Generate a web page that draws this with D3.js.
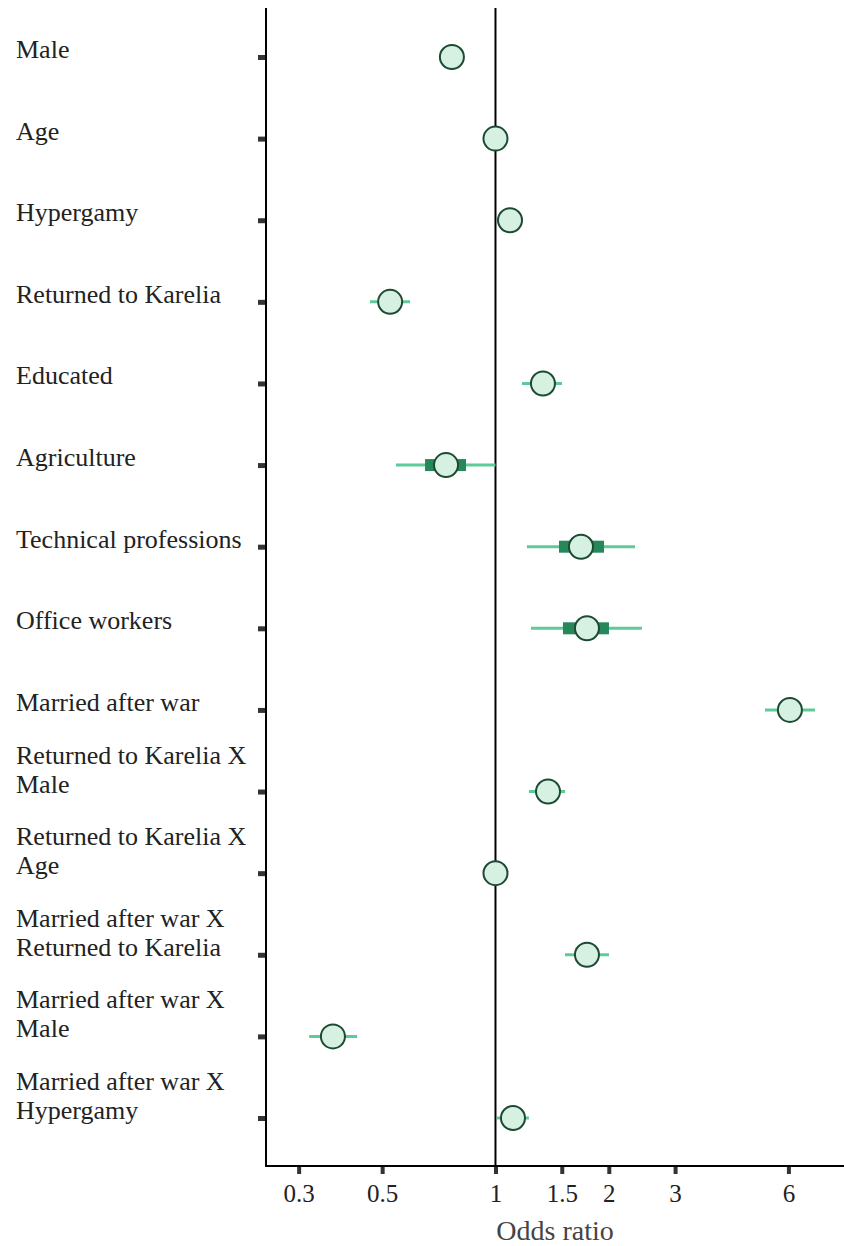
<!DOCTYPE html>
<html>
<head>
<meta charset="utf-8">
<script src="https://cdn.jsdelivr.net/npm/d3@7"></script>
<style>
  body { margin: 0; background: #fff; }
  text { font-family: "Liberation Serif", "Times New Roman", serif; fill: #222; }
</style>
</head>
<body>
<svg id="chart" width="844" height="1246"></svg>
<script>
// Row labels (wrapped as in the figure)
var categories = [
  "Male",
  "Age",
  "Hypergamy",
  "Returned to Karelia",
  "Educated",
  "Agriculture",
  "Technical professions",
  "Office workers",
  "Married after war",
  "Returned to Karelia X\nMale",
  "Returned to Karelia X\nAge",
  "Married after war X\nReturned to Karelia",
  "Married after war X\nMale",
  "Married after war X\nHypergamy"
];

// Odds ratio estimates and intervals
var estimate = [0.766, 1.00, 1.093, 0.525, 1.337, 0.739, 1.687, 1.750, 6.055, 1.379, 1.00, 1.750, 0.370, 1.113];
var lower    = [0.75, 0.98, 1.07, 0.464, 1.176, 0.544, 1.212, 1.243, 5.198, 1.227, 0.99, 1.530, 0.320, 1.009];
var upper    = [0.78, 1.02, 1.11, 0.593, 1.502, 1.000, 2.347, 2.449, 7.058, 1.530, 1.01, 2.002, 0.429, 1.227];
// inner (thick) interval, only shown for some rows
var innerLow  = [null, null, null, null, null, 0.650, 1.475, 1.511, null, null, null, null, null, null];
var innerHigh = [null, null, null, null, null, 0.835, 1.942, 2.002, null, null, null, null, null, null];

var tickValues = [0.3, 0.5, 1, 1.5, 2, 3, 6];

var rows = categories.map(function(c, i) {
  return {label: c, est: estimate[i], lo: lower[i], hi: upper[i], ilo: innerLow[i], ihi: innerHigh[i]};
});

var svg = d3.select("#chart");

var plotLeft = 266, plotRight = 844, plotTop = 8, plotBottom = 1166;

var x = d3.scaleLog()
  .domain([0.2457, 8.43])
  .range([plotLeft, plotRight]);

var y = d3.scalePoint()
  .domain(categories)
  .range([57, 1118]);

// Reference line at OR = 1
svg.append("line")
  .attr("x1", x(1)).attr("x2", x(1))
  .attr("y1", plotTop).attr("y2", plotBottom)
  .style("stroke", "#000")
  .style("stroke-width", 2);

// Axes
var xAxis = d3.axisBottom(x)
  .tickValues(tickValues)
  .tickFormat(d3.format("~g"))
  .tickSize(8)
  .tickPadding(10);

var gx = svg.append("g")
  .attr("transform", "translate(0," + plotBottom + ")")
  .call(xAxis);

gx.select(".domain").remove();
gx.selectAll(".tick line")
  .attr("y1", 1)
  .style("stroke", "#333")
  .style("stroke-width", 4);
gx.selectAll(".tick text")
  .style("font-family", "Liberation Serif, serif")
  .style("font-size", "25px")
  .style("fill", "#222");

var yAxis = d3.axisLeft(y)
  .tickSize(8)
  .tickFormat("");

var gy = svg.append("g")
  .attr("transform", "translate(" + plotLeft + ",0)")
  .call(yAxis);

gy.select(".domain").remove();
gy.selectAll(".tick line")
  .style("stroke", "#333")
  .style("stroke-width", 5);

// axis frame lines (left + bottom)
svg.append("path")
  .attr("d", "M" + plotLeft + "," + plotTop + "V" + plotBottom + "H" + plotRight)
  .style("fill", "none")
  .style("stroke", "#000")
  .style("stroke-width", 2);

// Row labels
var labels = svg.append("g").selectAll("text")
  .data(rows)
  .join("text")
  .attr("x", 16)
  .attr("y", function(d) { return y(d.label) + 1; })
  .style("font-size", "26px");

labels.each(function(d) {
  var lines = d.label.split("\n");
  var t = d3.select(this);
  lines.forEach(function(line, k) {
    t.append("tspan")
      .attr("x", 16)
      .attr("dy", k === 0 ? -(lines.length - 1) * 29 : 29)
      .text(line);
  });
});

// Outer intervals
svg.append("g").selectAll("line")
  .data(rows)
  .join("line")
  .attr("x1", function(d) { return x(d.lo); })
  .attr("x2", function(d) { return x(d.hi); })
  .attr("y1", function(d) { return y(d.label); })
  .attr("y2", function(d) { return y(d.label); })
  .style("stroke", "#5ccb97")
  .style("stroke-width", 3);

// Inner intervals
svg.append("g").selectAll("rect")
  .data(rows.filter(function(d) { return d.ilo != null; }))
  .join("rect")
  .attr("x", function(d) { return x(d.ilo); })
  .attr("width", function(d) { return x(d.ihi) - x(d.ilo); })
  .attr("y", function(d) { return y(d.label) - 6; })
  .attr("height", 12)
  .style("fill", "#25875a");

// Point estimates
svg.append("g").selectAll("circle")
  .data(rows)
  .join("circle")
  .attr("cx", function(d) { return x(d.est); })
  .attr("cy", function(d) { return y(d.label); })
  .attr("r", 12)
  .style("fill", "#d6f0e2")
  .style("stroke", "#1d4a33")
  .style("stroke-width", 2);

// Axis title
svg.append("text")
  .attr("x", (plotLeft + plotRight) / 2)
  .attr("y", 1240)
  .attr("text-anchor", "middle")
  .style("font-size", "28px")
  .style("fill", "#444")
  .text("Odds ratio");
</script>
</body>
</html>
